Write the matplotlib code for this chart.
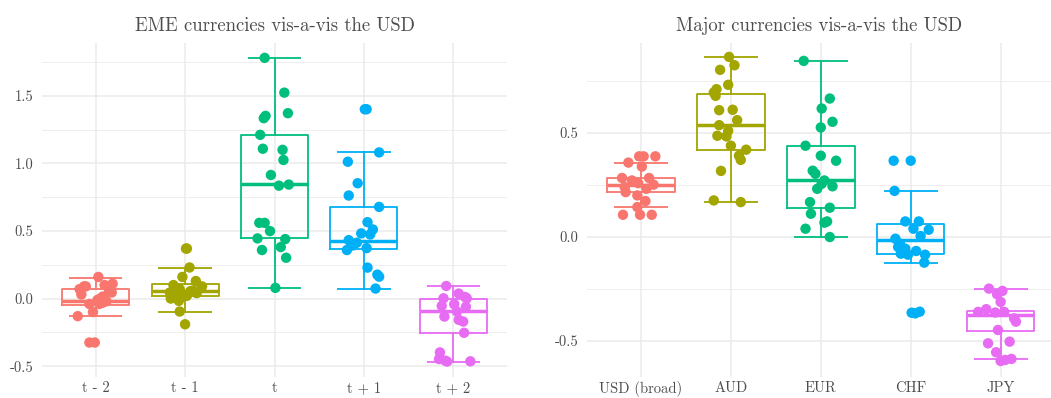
import matplotlib
matplotlib.use("Agg")
import matplotlib.pyplot as plt

plt.rcParams['font.family'] = ['cmr10', 'DejaVu Serif']
plt.rcParams['axes.unicode_minus'] = False

HUE = ['#F8766D', '#A3A500', '#00BF7D', '#00B0F6', '#E76BF3']
GRID = '#ebebeb'
TXT = '#4d4d4d'

# ---------------- EME currencies vis-a-vis the USD ----------------
eme_labels = ['t - 2', 't - 1', 't', 't + 1', 't + 2']
eme_q1 = [-0.047, 0.022, 0.445, 0.369, -0.253]
eme_med = [-0.018, 0.054, 0.845, 0.425, -0.091]
eme_q3 = [0.074, 0.106, 1.211, 0.678, -0.005]
eme_lo = [-0.128, -0.096, 0.079, 0.074, -0.467]
eme_hi = [0.155, 0.228, 1.780, 1.081, 0.093]

eme_vals = [
    [0.16, 0.09, 0.09, 0.10, 0.11, 0.07, 0.03, 0.045, 0.015, 0.0,
     -0.01, -0.02, -0.04, -0.04, -0.03, -0.10, -0.13, -0.325, -0.325, 0.05],
    [0.37, 0.37, 0.23, 0.16, 0.13, 0.10, 0.09, 0.07, 0.055, 0.045,
     0.025, 0.04, 0.02, 0.0, -0.017, -0.096, -0.19, 0.06, 0.03],
    [1.78, 1.523, 1.334, 1.351, 1.371, 1.211, 1.108, 1.10, 1.025, 0.914,
     0.835, 0.843, 0.56, 0.56, 0.499, 0.445, 0.44, 0.359, 0.381, 0.302, 0.079],
    [1.40, 1.40, 1.081, 1.012, 0.853, 0.762, 0.678, 0.565, 0.511, 0.474,
     0.482, 0.432, 0.413, 0.393, 0.359, 0.373, 0.229, 0.177, 0.162, 0.074],
    [0.093, 0.037, 0.012, 0.002, 0.002, -0.042, -0.054, -0.061, -0.096,
     -0.133, -0.157, -0.17, -0.253, -0.398, -0.459, -0.447, -0.464, -0.466],
]
eme_jit = [
    [0.03, -0.13, -0.11, 0.10, 0.19, -0.18, -0.16, 0.18, 0.08, 0.05,
     0.02, 0.12, -0.07, 0.04, 0.08, -0.03, -0.20, -0.07, -0.01, 0.15],
    [0.01, 0.02, 0.05, -0.03, 0.12, -0.13, 0.19, -0.06, 0.06, -0.17,
     -0.09, 0.13, 0.02, -0.16, -0.07, -0.06, 0.0, 0.09, -0.02],
    [-0.11, 0.11, -0.12, -0.10, 0.15, -0.16, -0.13, 0.09, 0.10, -0.04,
     0.05, 0.16, -0.17, -0.11, -0.05, -0.19, 0.12, -0.14, 0.07, 0.13, 0.01],
    [0.01, 0.03, 0.17, -0.18, -0.07, -0.17, 0.17, 0.04, 0.10, 0.07,
     -0.03, -0.17, -0.08, -0.12, -0.19, 0.03, 0.04, 0.15, 0.17, 0.13],
    [-0.08, 0.06, 0.13, 0.15, -0.11, 0.01, -0.13, 0.14, 0.04,
     -0.10, 0.06, 0.11, 0.12, -0.15, -0.09, -0.16, 0.19, -0.07],
]

# ---------------- Major currencies vis-a-vis the USD ----------------
maj_labels = ['USD (broad)', 'AUD', 'EUR', 'CHF', 'JPY']
maj_q1 = [0.216, 0.420, 0.141, -0.083, -0.450]
maj_med = [0.248, 0.540, 0.272, -0.016, -0.375]
maj_q3 = [0.283, 0.689, 0.439, 0.064, -0.355]
maj_lo = [0.144, 0.168, 0.0, -0.125, -0.586]
maj_hi = [0.358, 0.866, 0.847, 0.222, -0.252]

maj_vals = [
    [0.358, 0.388, 0.388, 0.388, 0.339, 0.284, 0.272, 0.284, 0.259, 0.252,
     0.24, 0.232, 0.216, 0.2, 0.173, 0.144, 0.107, 0.107, 0.107],
    [0.866, 0.826, 0.804, 0.732, 0.711, 0.695, 0.679, 0.61, 0.612, 0.562,
     0.538, 0.511, 0.484, 0.487, 0.439, 0.42, 0.391, 0.371, 0.318, 0.176, 0.168],
    [0.847, 0.666, 0.618, 0.554, 0.527, 0.439, 0.391, 0.367, 0.319, 0.304,
     0.272, 0.256, 0.244, 0.232, 0.168, 0.141, 0.112, 0.075, 0.069, 0.04, 0.0],
    [0.367, 0.367, 0.222, 0.075, 0.075, 0.04, 0.035, 0.005, -0.008, -0.032,
     -0.048, -0.056, -0.067, -0.08, -0.085, -0.085, -0.123, -0.364, -0.367, -0.359],
    [-0.248, -0.259, -0.275, -0.312, -0.347, -0.36, -0.363, -0.36, -0.391,
     -0.407, -0.447, -0.511, -0.503, -0.554, -0.596, -0.591, -0.586],
]
maj_jit = [
    [-0.14, -0.02, 0.03, 0.16, 0.01, -0.21, -0.10, 0.09, -0.03, 0.14,
     -0.18, 0.06, -0.17, -0.04, 0.05, -0.04, -0.20, -0.01, 0.12],
    [-0.02, 0.04, -0.12, -0.03, -0.16, -0.19, -0.17, -0.13, 0.02, 0.07,
     -0.13, -0.03, -0.05, -0.15, 0.0, 0.17, 0.09, 0.11, -0.11, -0.19, 0.11],
    [-0.19, 0.10, 0.01, 0.13, 0.0, -0.17, 0.0, 0.17, -0.09, -0.06,
     0.04, 0.01, 0.13, -0.04, -0.12, 0.10, -0.11, 0.07, 0.04, -0.17, 0.10],
    [-0.19, 0.0, -0.18, -0.06, 0.09, 0.03, 0.20, 0.11, -0.17, -0.12,
     -0.14, -0.06, 0.06, -0.11, -0.03, 0.16, 0.15, 0.01, 0.05, 0.10],
    [-0.13, 0.02, -0.04, 0.0, -0.16, -0.25, -0.06, 0.04, 0.15,
     0.17, -0.03, -0.14, 0.10, -0.05, 0.0, 0.05, 0.12],
]


def panel(ax, title, labels, q1, med, q3, lo, hi, vals, jit, yticks, yminor, ylim, xlim):
    ax.set_facecolor('white')
    for y in yminor:
        ax.axhline(y, color=GRID, lw=0.6, zorder=0)
    for y in yticks:
        ax.axhline(y, color=GRID, lw=1.1, zorder=0)
    pos = list(range(1, len(labels) + 1))
    for x in pos:
        ax.axvline(x, color=GRID, lw=1.1, zorder=0)

    for i, x in enumerate(pos):
        c = HUE[i]
        stats = [dict(q1=q1[i], med=med[i], q3=q3[i], whislo=lo[i], whishi=hi[i], fliers=[])]
        ax.bxp(stats, positions=[x], widths=0.75, showcaps=False, patch_artist=False,
               boxprops=dict(color=c, lw=1.3),
               whiskerprops=dict(color=c, lw=1.3),
               medianprops=dict(color=c, lw=2.5, solid_capstyle='butt'),
               manage_ticks=False, zorder=2)
        # error-bar style caps
        ax.hlines([lo[i], hi[i]], x - 0.3, x + 0.3, color=c, lw=1.3, zorder=2)
        xs = [x + j for j in jit[i]]
        ax.scatter(xs, vals[i], s=56, color=c, edgecolors='none', zorder=3)

    ax.set_xlim(*xlim)
    ax.set_ylim(*ylim)
    ax.set_xticks(pos)
    ax.set_xticklabels(labels)
    ax.set_yticks(yticks)
    ax.set_yticklabels(['%.1f' % v for v in yticks])
    ax.tick_params(axis='y', length=0, labelsize=10.5, labelcolor=TXT, pad=6)
    ax.tick_params(axis='x', length=0, labelsize=10.5, labelcolor=TXT, pad=3)
    for s in ax.spines.values():
        s.set_visible(False)
    ax.set_title(title, fontsize=13.5, color=TXT, pad=9)


fig = plt.figure(figsize=(10.51, 3.98), dpi=100)
ax1 = fig.add_axes([42 / 1051, 21 / 398, 465 / 1051, 334 / 398])
ax2 = fig.add_axes([587 / 1051, 21 / 398, 464 / 1051, 334 / 398])

panel(ax1, 'EME currencies vis-a-vis the USD', eme_labels,
      eme_q1, eme_med, eme_q3, eme_lo, eme_hi, eme_vals, eme_jit,
      [-0.5, 0.0, 0.5, 1.0, 1.5], [-0.25, 0.25, 0.75, 1.25, 1.75],
      (-0.58, 1.89), (0.4, 5.6))
panel(ax2, 'Major currencies vis-a-vis the USD', maj_labels,
      maj_q1, maj_med, maj_q3, maj_lo, maj_hi, maj_vals, maj_jit,
      [-0.5, 0.0, 0.5], [-0.25, 0.25, 0.75],
      (-0.673, 0.933), (0.4, 5.56))

fig.savefig('out.png', dpi=100, facecolor='white')
